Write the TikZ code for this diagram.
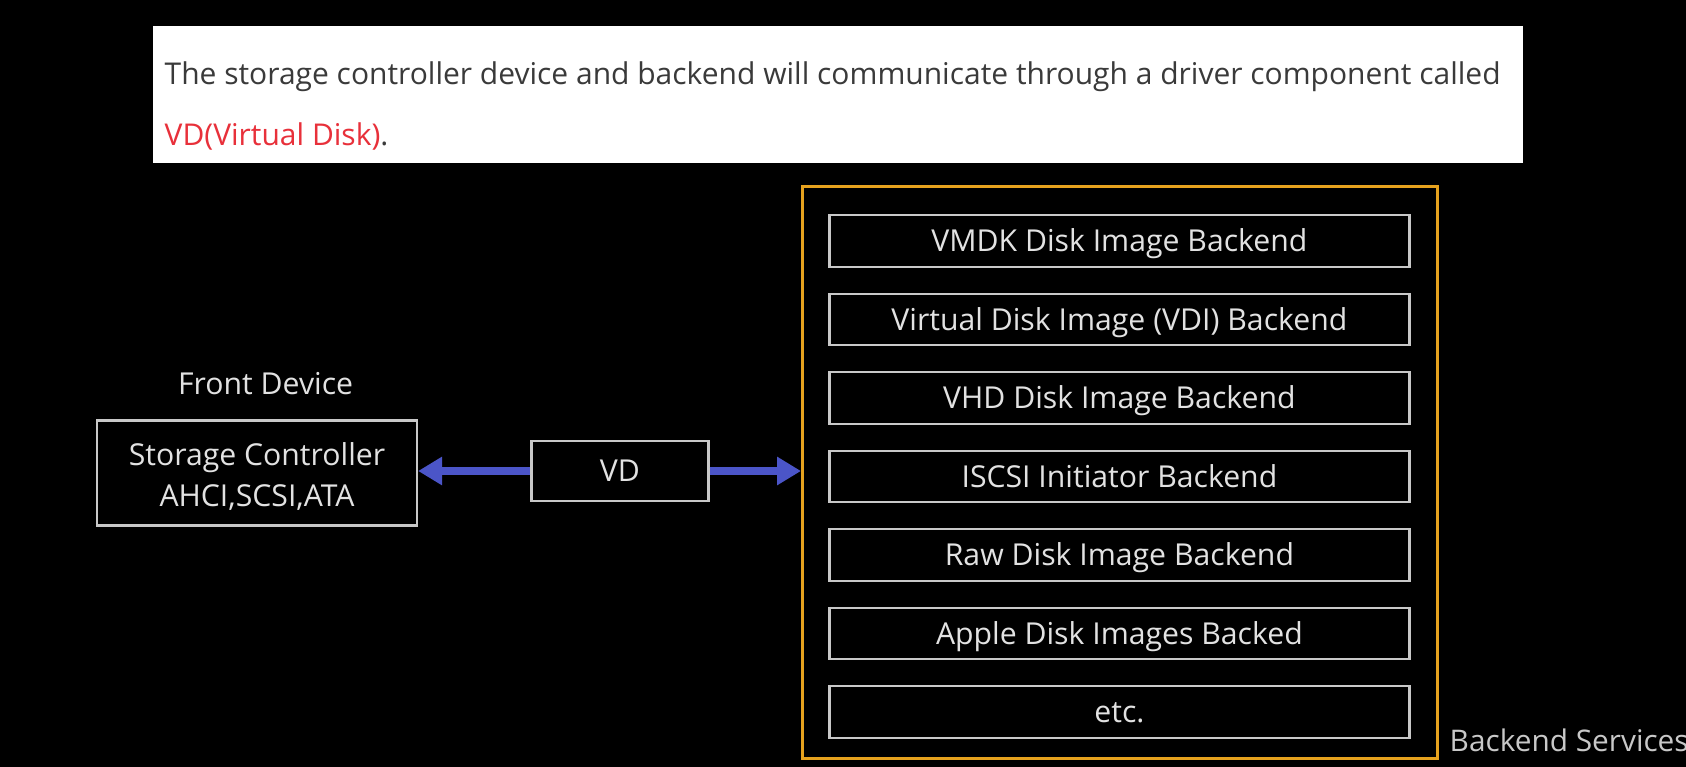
\documentclass[tikz,border=0pt]{standalone}
\usepackage{fontspec}
\setmainfont{Open Sans}
\usetikzlibrary{arrows.meta}
\definecolor{bannertext}{HTML}{3A3A3A}
\definecolor{redtext}{HTML}{E8303A}
\definecolor{boxline}{HTML}{C8C8C8}
\definecolor{boxtext}{HTML}{E2E2E2}
\definecolor{orangeline}{HTML}{E6A21E}
\definecolor{arrowblue}{HTML}{4B55C8}
\tikzset{
  plainbox/.style={draw=boxline, line width=2.2pt, inner sep=0pt, text=boxtext, align=center, font=\fontsize{30.2}{41}\selectfont},
  backbox/.style={plainbox, minimum width=580pt, minimum height=51.5pt, text height=21.6pt, text depth=0pt},
  graylabel/.style={text=boxtext, inner sep=0pt, font=\fontsize{30.2}{34}\selectfont},
  bluearrow/.style={draw=arrowblue, line width=8pt, -{Triangle[length=24pt,width=27pt]}},
  bannerline/.style={inner sep=0pt, anchor=west, font=\fontsize{30}{34}\selectfont}
}
\begin{document}
\begin{tikzpicture}[x=1pt,y=-1pt]
\fill[black] (0,0) rectangle (1686,767);
\useasboundingbox (0,0) rectangle (1686,767);
% banner
\fill[white] (152.7,25.8) rectangle (1522.6,163.4);
\node[bannerline, text=bannertext] (line1) at (164.5,77) {The storage controller device and backend will communicate through a driver component called};
\node[bannerline, text=redtext] (line2) at (164.5,136.5) {VD(Virtual Disk)\textcolor{bannertext}{.}};
% front device
\node[graylabel, text height=21.6pt, text depth=0pt] (frontlabel) at (265.6,384) {Front Device};
\node[plainbox, minimum width=320pt, minimum height=105pt,
  label={[graylabel, align=center, font=\fontsize{30.2}{41}\selectfont, yshift=-3pt]center:Storage Controller\\AHCI,SCSI,ATA}] (sc) at (257,473) {};
% VD
\node[plainbox, minimum width=177pt, minimum height=60pt, text height=21.6pt, text depth=0pt] (vd) at (619.9,471) {VD};
% backend container
\node[draw=orangeline, line width=3pt, minimum width=635pt, minimum height=571pt, inner sep=0pt] (backend) at (1120,472.5) {};
\node[backbox] (b1) at (1119.4,241) {VMDK Disk Image Backend};
\node[backbox] (b2) at (1119.4,319.5) {Virtual Disk Image (VDI) Backend};
\node[backbox] (b3) at (1119.4,398) {VHD Disk Image Backend};
\node[backbox] (b4) at (1119.4,476.5) {ISCSI Initiator Backend};
\node[backbox] (b5) at (1119.4,555) {Raw Disk Image Backend};
\node[backbox] (b6) at (1119.4,633.5) {Apple Disk Images Backed};
\node[backbox] (b7) at (1119.4,712) {etc.};
\node[graylabel, anchor=west, text=boxline, font=\fontsize{29.8}{34}\selectfont] (bslabel) at (1449.5,740) {Backend Services};
% arrows
\draw[bluearrow] (vd.west) -- (vd.west -| sc.east);
\draw[bluearrow] (vd.east) -- (vd.east -| backend.west);
\end{tikzpicture}
\end{document}
